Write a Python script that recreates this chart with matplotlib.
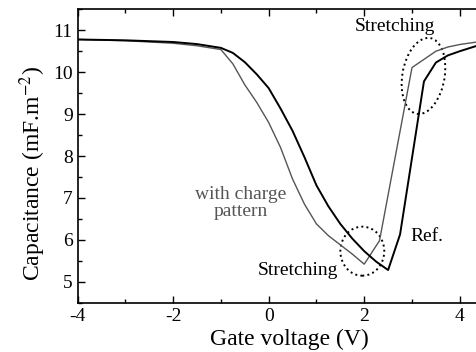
import matplotlib
matplotlib.use('Agg')
import matplotlib.pyplot as plt
from matplotlib.patches import Ellipse
from matplotlib.ticker import MultipleLocator

plt.rcParams['font.family'] = ['Liberation Serif', 'DejaVu Serif']
plt.rcParams['axes.unicode_minus'] = False
plt.rcParams['mathtext.fontset'] = 'stix'

# Ref. curve (black)
v_ref = [-4.0, -3.0, -2.0, -1.5, -1.0, -0.75, -0.5, -0.25, 0.0, 0.25, 0.5, 0.75, 1.0,
         1.25, 1.5, 1.75, 2.0, 2.25, 2.5, 2.75, 3.25, 3.5, 3.75, 4.0, 4.36]
c_ref = [10.78, 10.76, 10.72, 10.67, 10.58, 10.46, 10.24, 9.95, 9.62, 9.13, 8.6, 7.97, 7.3,
         6.8, 6.38, 6.03, 5.73, 5.48, 5.28, 6.13, 9.78, 10.23, 10.4, 10.5, 10.63]

# with charge pattern (gray)
v_chg = [-4.0, -3.0, -2.0, -1.5, -1.0, -0.75, -0.5, -0.25, 0.0, 0.25, 0.5, 0.75, 1.0,
         1.25, 1.5, 1.75, 2.0, 2.32, 3.0, 3.5, 3.75, 4.0, 4.36]
c_chg = [10.78, 10.75, 10.69, 10.63, 10.54, 10.2, 9.7, 9.28, 8.8, 8.2, 7.45, 6.85, 6.38,
         6.1, 5.88, 5.66, 5.42, 5.98, 10.11, 10.5, 10.6, 10.66, 10.72]

fig = plt.figure(figsize=(4.77, 3.52), dpi=100)
ax = fig.add_axes([0.1625, 0.14, 0.8375, 0.8336])

ax.plot(v_chg, c_chg, color='#555555', lw=1.0)
ax.plot(v_ref, c_ref, color='black', lw=1.4)

ax.set_xlim(-4, 4.36)
ax.set_ylim(4.5, 11.5)
ax.xaxis.set_major_locator(MultipleLocator(2))
ax.xaxis.set_minor_locator(MultipleLocator(1))
ax.yaxis.set_major_locator(MultipleLocator(1))
ax.yaxis.set_minor_locator(MultipleLocator(0.5))
ax.tick_params(which='both', direction='in', top=True, right=False, labelsize=14, width=1)
ax.tick_params(which='major', length=5)
ax.tick_params(which='minor', length=3)
ax.spines['right'].set_visible(False)
for s in ['left', 'bottom', 'top']:
    ax.spines[s].set_linewidth(1.2)

ax.set_xlabel('Gate voltage (V)', fontsize=17)
ax.set_ylabel('Capacitance (mF.m$^{-2}$)', fontsize=17)
ax.xaxis.set_label_coords(0.53, -0.09)
ax.yaxis.set_label_coords(-0.075, 0.44)

ax.text(2.65, 11.1, 'Stretching', fontsize=14, ha='center', va='center')
ax.text(0.61, 5.27, 'Stretching', fontsize=14, ha='center', va='center')
ax.text(2.96, 6.09, 'Ref.', fontsize=14, ha='left', va='center')
ax.text(-0.58, 6.87, 'with charge\npattern', fontsize=14, ha='center', va='center',
        color='#555555', linespacing=1.0)

ax.add_patch(Ellipse((3.24, 9.91), 0.886, 1.83, angle=-8, fill=False, ls=':', lw=1.4, color='black'))
ax.add_patch(Ellipse((1.96, 5.73), 0.92, 1.17, fill=False, ls=':', lw=1.4, color='black'))

fig.savefig('out.png', dpi=100)
